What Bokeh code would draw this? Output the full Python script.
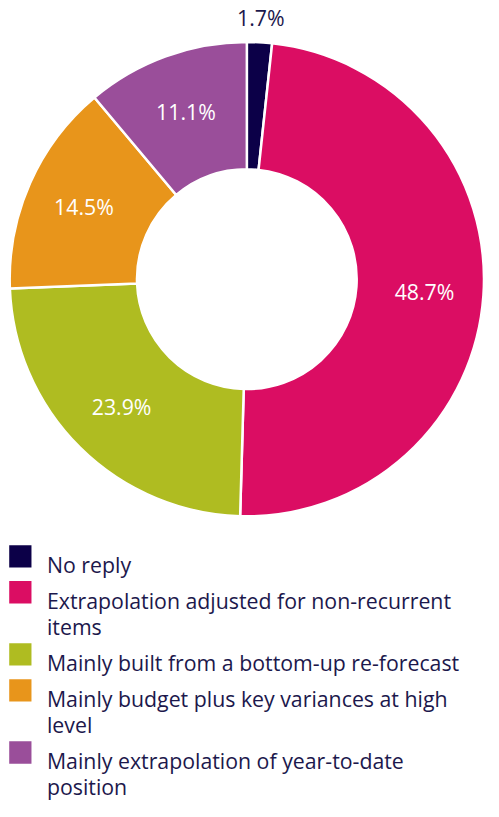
import math
from bokeh.plotting import figure
from bokeh.models import Range1d, ColumnDataSource
from bokeh.core.properties import value
from bokeh.embed import file_html
from bokeh.resources import INLINE

# ---- data ----
categories = [
    "No reply",
    "Extrapolation adjusted for non-recurrent items",
    "Mainly built from a bottom-up re-forecast",
    "Mainly budget plus key variances at high level",
    "Mainly extrapolation of year-to-date position",
]
legend_lines = [
    ["No reply"],
    ["Extrapolation adjusted for non-recurrent", "items"],
    ["Mainly built from a bottom-up re-forecast"],
    ["Mainly budget plus key variances at high", "level"],
    ["Mainly extrapolation of year-to-date", "position"],
]
shares = [1.7, 48.7, 23.9, 14.5, 11.1]
share_labels = ["1.7%", "48.7%", "23.9%", "14.5%", "11.1%"]
colors = ["#0c0048", "#db0d63", "#afbc21", "#e8951b", "#9a4e9a"]

# ---- layout (reference pixel space, y downward -> negated) ----
W, H = 483, 801
REF_X0, REF_X1 = 0.0, 499.0
REF_Y0, REF_Y1 = 2.0, 827.0
sx = W / (REF_X1 - REF_X0)

CX, CY = 254.5, 289.0
R_OUT, R_IN = 245.0, 113.5
R_LABEL, R_OUTSIDE = 184.0, 270.0
FONT = "Open Sans"
TEXT_DARK = "#1c184c"

total = sum(shares)
starts, ends, lx, ly, lcol = [], [], [], [], []
cum = 0.0
for v in shares:
    a0 = math.pi / 2 - 2 * math.pi * cum / total
    cum += v
    a1 = math.pi / 2 - 2 * math.pi * cum / total
    starts.append(a0)
    ends.append(a1)
    mid = (a0 + a1) / 2
    inside = v / total > 0.05
    r = R_LABEL if inside else R_OUTSIDE
    lx.append(CX + r * math.cos(mid))
    ly.append(-(CY - r * math.sin(mid)))
    lcol.append("white" if inside else TEXT_DARK)

p = figure(width=W, height=H, x_range=Range1d(REF_X0, REF_X1), y_range=Range1d(-REF_Y1, -REF_Y0),
           output_backend="svg", toolbar_location=None,
           x_axis_location=None, y_axis_location=None, min_border=0)
p.grid.visible = False
p.outline_line_color = None
p.background_fill_color = "white"
p.border_fill_color = "white"

src = ColumnDataSource(dict(start=starts, end=ends, color=colors, cat=categories))
p.annular_wedge(x=CX, y=-CY, inner_radius=R_IN, outer_radius=R_OUT,
                start_angle="start", end_angle="end", direction="clock",
                fill_color="color", line_color="white", line_width=2.5, source=src)

lab = ColumnDataSource(dict(x=lx, y=ly, t=share_labels, c=lcol))
p.text(x="x", y="y", text="t", text_color="c", text_align="center", text_baseline="middle",
       text_font=value(FONT), text_font_size=f"{22 * sx:.1f}px", source=lab)

# ---- legend ----
SQ_TOP0, ITEM_GAP, LINE_H, SQ = 563.0, 37.0, 27.0, 23.0
sq_x, sq_y, tx, ty, tt = [], [], [], [], []
top = SQ_TOP0
for lines in legend_lines:
    sq_x.append(9 + SQ / 2)
    sq_y.append(-(top + SQ / 2))
    for j, line in enumerate(lines):
        tx.append(48.0)
        ty.append(-(top + 19.5 + j * LINE_H))
        tt.append(line)
    top += ITEM_GAP + LINE_H * (len(lines) - 1)

p.rect(x=sq_x, y=sq_y, width=SQ, height=SQ, fill_color=colors, line_color=None)
p.text(x=tx, y=ty, text=tt, text_color=TEXT_DARK, text_align="left", text_baseline="alphabetic",
       text_font=value(FONT), text_font_size=f"{22 * sx:.1f}px")

open("out.html", "w").write(file_html(p, INLINE))
